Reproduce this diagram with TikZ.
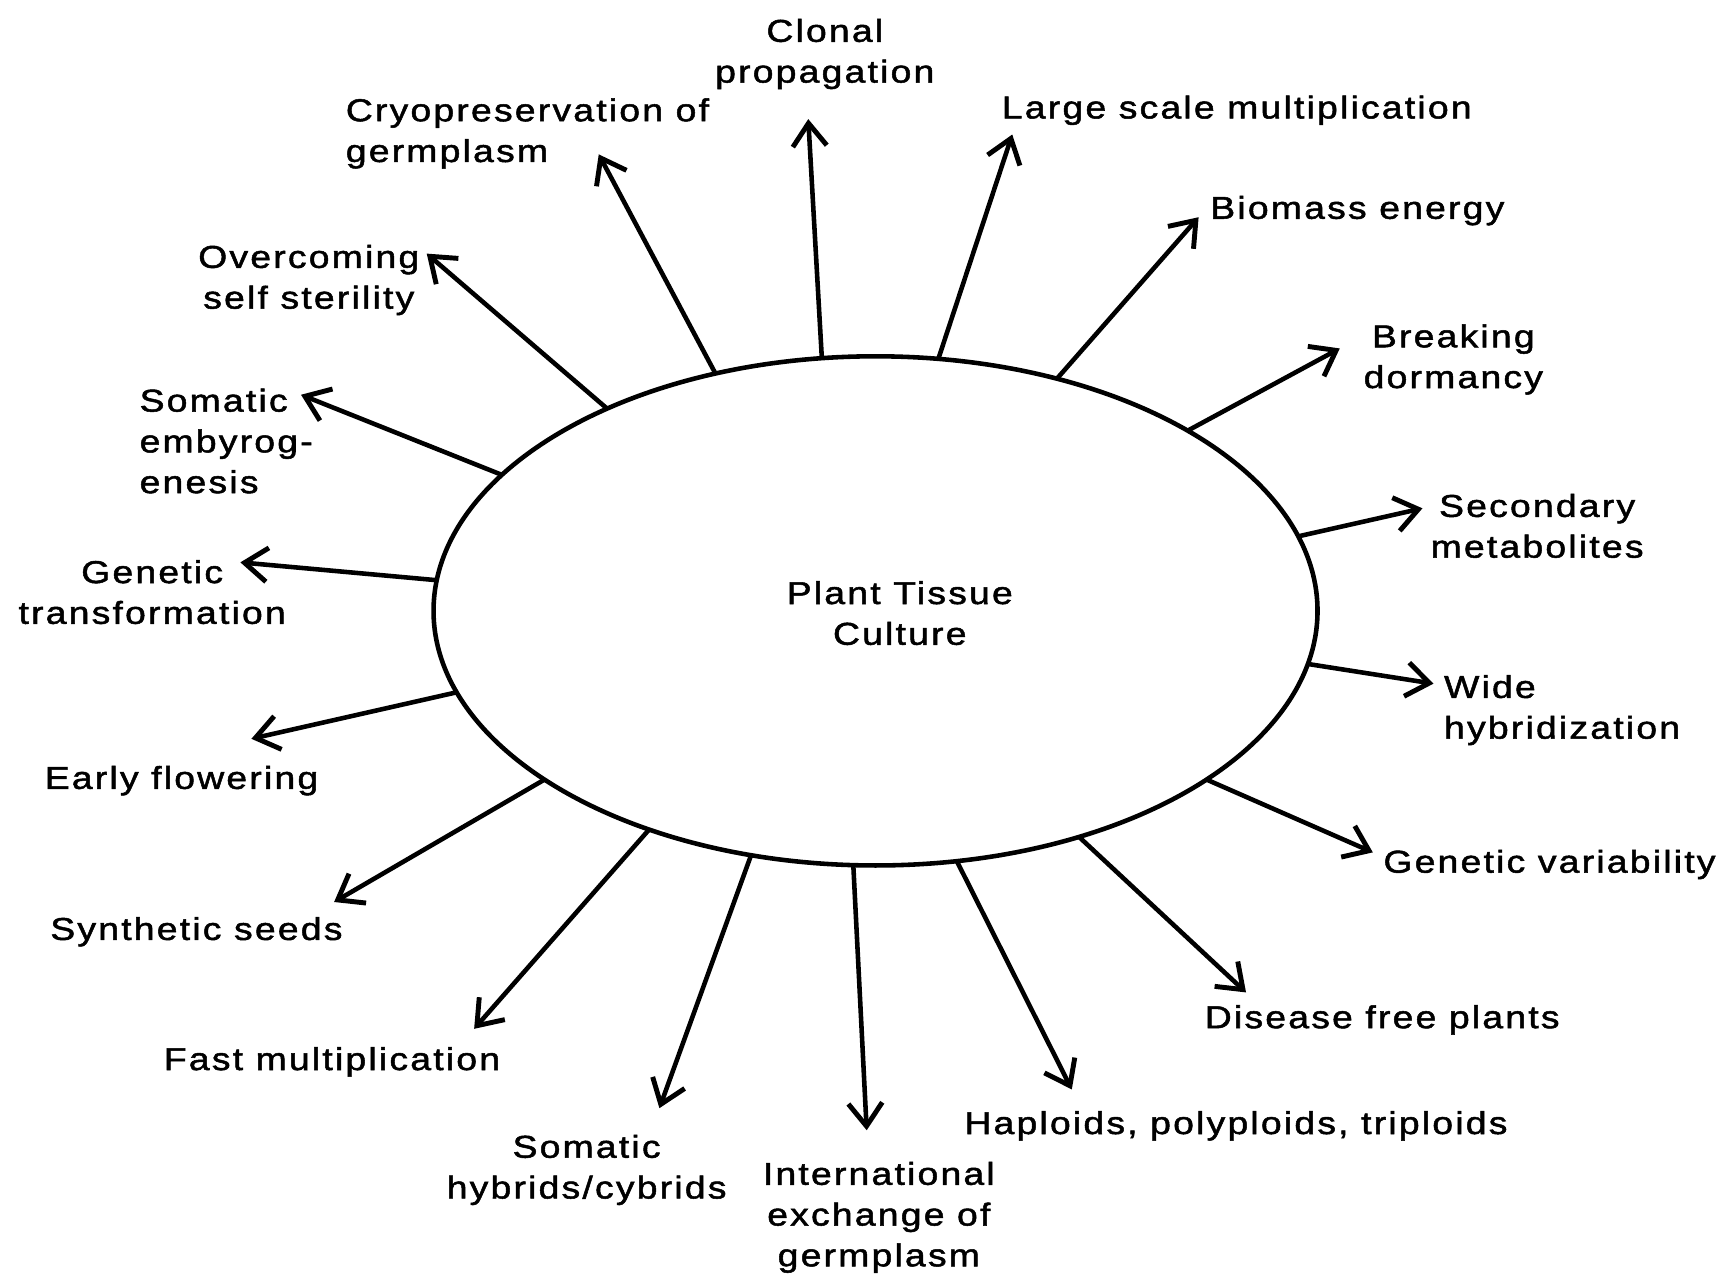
\documentclass[tikz,border=0pt]{standalone}
\usepackage{fontspec}
\setmainfont[FakeStretch=1.18,LetterSpace=7,FakeBold=1.6]{Liberation Sans}
\usetikzlibrary{shapes.geometric,arrows.meta}
\begin{document}
\begin{tikzpicture}[x=0.011027cm,y=-0.011027cm,
  lbl/.style={font=\fontsize{9}{11.6}\selectfont,inner sep=0pt,yshift=-0.033cm},
  arr/.style={line width=1.3pt,-{Straight Barb[length=2.3mm,width=3.4mm,line width=1.4pt]}},
  hub/.style={draw,line width=1.3pt,ellipse,minimum width=8.844cm,minimum height=5.094cm,inner sep=0pt,outer sep=0pt}]
\path[use as bounding box,fill=white] (0,0) rectangle (1568,1164);
\node[hub] (c) at (794,554) {};
\node[lbl,align=center] (ct) at (816,553) {Plant Tissue\\Culture};
% labels
\node[lbl,align=center] (l1) at (748,46) {Clonal\\propagation};
\node[lbl,anchor=west] (l2) at (908,97) {Large scale multiplication};
\node[lbl,anchor=west] (l3) at (1097,188) {Biomass energy};
\node[lbl,align=center] (l4) at (1318,323) {Breaking\\dormancy};
\node[lbl,align=center] (l5) at (1394,474) {Secondary\\metabolites};
\node[lbl,align=left,anchor=west] (l6) at (1309,641) {Wide\\hybridization};
\node[lbl,anchor=west] (l7) at (1254,781) {Genetic variability};
\node[lbl,anchor=west] (l8) at (1092,922) {Disease free plants};
\node[lbl,anchor=west] (l9) at (874,1018) {Haploids, polyploids, triploids};
\node[lbl,align=center] (l10) at (797,1101) {International\\exchange of\\germplasm};
\node[lbl,align=center] (l11) at (532,1058) {Somatic\\hybrids/cybrids};
\node[lbl,anchor=west] (l12) at (148,960) {Fast multiplication};
\node[lbl,anchor=west] (l13) at (45,842) {Synthetic seeds};
\node[lbl,anchor=west] (l14) at (40,705) {Early flowering};
\node[lbl,align=center] (l15) at (138,534) {Genetic\\transformation};
\node[lbl,align=left,anchor=west] (l16) at (126,397) {Somatic\\embyrog-\\enesis};
\node[lbl,align=center] (l17) at (280,251) {Overcoming\\self sterility};
\node[lbl,align=left,anchor=west] (l18) at (313,118) {Cryopreservation of\\germplasm};
% arrow tips
\coordinate (t1) at (733,108);
\coordinate (t2) at (918,122);
\coordinate (t3) at (1087,197);
\coordinate (t4) at (1215,316);
\coordinate (t5) at (1290,461);
\coordinate (t6) at (1300,620);
\coordinate (t7) at (1245,773);
\coordinate (t8) at (1130,900);
\coordinate (t9) at (972,988);
\coordinate (t10) at (786,1025);
\coordinate (t11) at (598,1005);
\coordinate (t12) at (430,933);
\coordinate (t13) at (303,818);
\coordinate (t14) at (228,670);
\coordinate (t15) at (218,510);
\coordinate (t16) at (273,358);
\coordinate (t17) at (387,230);
\coordinate (t18) at (543,140);
% arrows
\draw[arr] (c.102.45) -- (t1);
\draw[arr] (c.76.84) -- (t2);
\draw[arr] (c.52.2) -- (t3);
\draw[arr] (c.30.17) -- (t4);
\draw[arr] (c.10.71) -- (t5);
\draw[arr] (c.-7.8) -- (t6);
\draw[arr] (c.-27.24) -- (t7);
\draw[arr] (c.-48.64) -- (t8);
\draw[arr] (c.-72.24) -- (t9);
\draw[arr] (c.-95.37) -- (t10);
\draw[arr] (c.243.23) -- (t11);
\draw[arr] (c.224.3) -- (t12);
\draw[arr] (c.207.85) -- (t13);
\draw[arr] (c.191.86) -- (t14);
\draw[arr] (c.176.13) -- (t15);
\draw[arr] (c.160.63) -- (t16);
\draw[arr] (c.143.54) -- (t17);
\draw[arr] (c.124.6) -- (t18);
\end{tikzpicture}
\end{document}
